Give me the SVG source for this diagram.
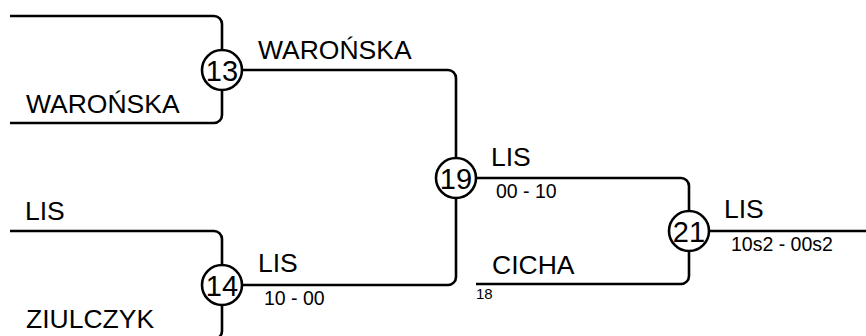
<svg xmlns="http://www.w3.org/2000/svg" width="866" height="336" viewBox="0 0 866 336">
<style>
.c{fill:none;stroke:#000;stroke-width:2.6;stroke-linecap:butt}
.n{fill:#fff;stroke:#000;stroke-width:2.6}
.num{font-family:"Liberation Sans",Arial,sans-serif;font-size:29px;text-anchor:middle;fill:#000}
.big{font-family:"Liberation Sans",Arial,sans-serif;font-size:26.5px;fill:#000}
.sm{font-family:"Liberation Sans",Arial,sans-serif;font-size:19.5px;fill:#000}
.xs{font-family:"Liberation Sans",Arial,sans-serif;font-size:15px;fill:#000}
</style>
<rect width="866" height="336" fill="#fff"/>
<g id="connectors">
<path class="c" d="M10,16 H214 A8,8 0 0 1 222,24 V50"/>
<path class="c" d="M10,123 H214 A8,8 0 0 0 222,115 V90"/>
<path class="c" d="M242,70 H448 A8,8 0 0 1 456,78 V158"/>
<path class="c" d="M10,231 H214 A8,8 0 0 1 222,239 V265"/>
<path class="c" d="M10,339 H214 A8,8 0 0 0 222,331 V305"/>
<path class="c" d="M242,285 H448 A8,8 0 0 0 456,277 V198"/>
<path class="c" d="M476,178 H681 A8,8 0 0 1 689,186 V211"/>
<path class="c" d="M476,284 H681 A8,8 0 0 0 689,276 V251"/>
<path class="c" d="M709,231 H866"/>
</g>
<g id="labels">
<text class="big" x="26" y="113">WAROŃSKA</text>
<text class="big" x="258" y="59">WAROŃSKA</text>
<text class="big" x="25" y="220">LIS</text>
<text class="big" x="26" y="327.5">ZIULCZYK</text>
<text class="big" x="258" y="272">LIS</text>
<text class="sm" x="264" y="305">10 - 00</text>
<text class="big" x="491" y="166">LIS</text>
<text class="sm" x="496" y="198">00 - 10</text>
<text class="big" x="724" y="218">LIS</text>
<text class="sm" x="731" y="251">10s2 - 00s2</text>
<text class="big" x="492" y="274">CICHA</text>
<text class="xs" x="476" y="299">18</text>
</g>
<g id="node13"><circle class="n" cx="222" cy="70" r="20"/><text class="num" x="222" y="80.5">13</text></g>
<g id="node14"><circle class="n" cx="222" cy="285" r="20"/><text class="num" x="222" y="295.5">14</text></g>
<g id="node19"><circle class="n" cx="456" cy="178" r="20"/><text class="num" x="456" y="188.5">19</text></g>
<g id="node21"><circle class="n" cx="689" cy="231" r="20"/><text class="num" x="689" y="241.5">21</text></g>
</svg>
